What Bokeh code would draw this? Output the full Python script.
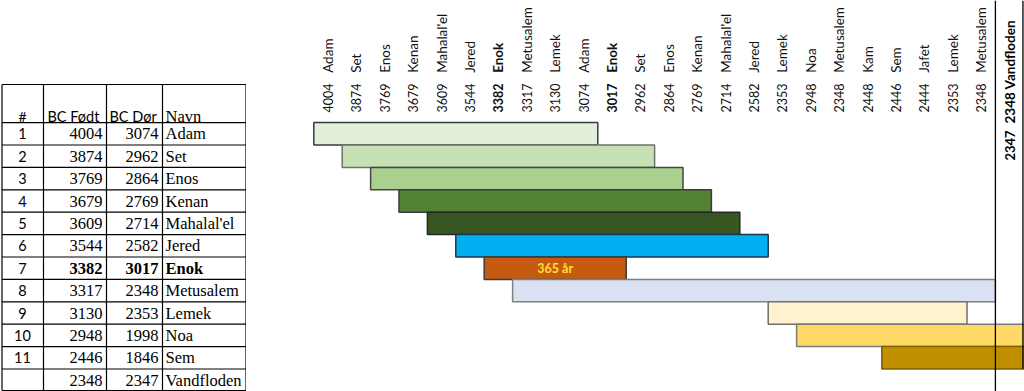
import math
from bokeh.plotting import figure
from bokeh.models import Range1d, ColumnDataSource
from bokeh.layouts import row
from bokeh.embed import file_html
from bokeh.resources import INLINE
from bokeh.core.properties import value, field

# ---------------- data ----------------
row_nums = ["1", "2", "3", "4", "5", "6", "7", "8", "9", "10", "11", ""]
born = [4004, 3874, 3769, 3679, 3609, 3544, 3382, 3317, 3130, 2948, 2446, 2348]
died = [3074, 2962, 2864, 2769, 2714, 2582, 3017, 2348, 2353, 1998, 1846, 2347]
names = ["Adam", "Set", "Enos", "Kenan", "Mahalal'el", "Jered", "Enok",
         "Metusalem", "Lemek", "Noa", "Sem", "Vandfloden"]
bold_rows = [6]

col_years = ["4004", "3874", "3769", "3679", "3609", "3544", "3382", "3317",
             "3130", "3074", "3017", "2962", "2864", "2769", "2714", "2582",
             "2353", "2948", "2348", "2448", "2446", "2444", "2353", "2348"]
col_names = ["Adam", "Set", "Enos", "Kenan", "Mahalal'el", "Jered", "Enok",
             "Metusalem", "Lemek", "Adam", "Enok", "Set", "Enos", "Kenan",
             "Mahalal'el", "Jered", "Lemek", "Noa", "Metusalem", "Kam", "Sem",
             "Jafet", "Lemek", "Metusalem"]
bold_cols = [6, 10]
flood_label = "2348 Vandfloden"
flood_end_label = "2347"

# bar spans on the event axis (column index of first / last column covered)
bar_start_col = [0, 1, 2, 3, 4, 5, 6, 7, 16, 17, 20]
bar_end_col = [9, 11, 12, 13, 14, 15, 10, 23, 22, 26, 26]
bar_fill = ["#E2EFDA", "#C6E0B4", "#A9D08E", "#548235", "#375623", "#00B0F0",
            "#C55A11", "#D9E1F2", "#FFF2CC", "#FFD966", "#BF8F00"]
bar_line = ["#3a3a3a", "#6f6f6f", "#454545", "#3a3a3a", "#262626", "#1f3550",
            "#3a3a3a", "#7f7f7f", "#6f6f6f", "#7a7a7a", "#7f6000"]
enok_row = 6
enok_text = "365 år"

# ---------------- shared y (row index) ----------------
H = 391
ROW = 22.4
y_end = -133.3 / ROW
yr = Range1d(y_end + H / ROW, y_end)
y_top = yr.end
y_bot = yr.start

# ---------------- table ----------------
t = figure(width=246, height=H, x_range=Range1d(0, 246), y_range=yr,
           toolbar_location=None, output_backend="svg",
           x_axis_location=None, y_axis_location=None,
           min_border=0, outline_line_color=None)
t.grid.visible = False

n = len(names)
tbl_top = -2.2
tbl_bot = n - 0.54
hy = [tbl_top] + [i - 0.5 for i in range(n)] + [tbl_bot]
t.segment(x0=[1.5] * len(hy), x1=[245.5] * len(hy), y0=hy, y1=hy,
          line_color="#000000", line_width=1.2)
vx = [1.5, 43, 106, 162, 245.5]
t.segment(x0=vx, x1=vx, y0=[tbl_top] * len(vx), y1=[tbl_bot] * len(vx),
          line_color="#000000", line_width=1.2)

# header
hdr_y = -0.78
t.text(x=[22], y=[hdr_y], text=["#"], text_font=value("Lato"),
       text_font_size="14px", text_align="center", text_baseline="alphabetic")
t.text(x=[47, 109], y=[hdr_y, hdr_y], text=["BC Født", "BC Dør"],
       text_font=value("Lato"), text_font_size="14.5px",
       text_align="left", text_baseline="alphabetic")
t.text(x=[165], y=[hdr_y], text=["Navn"], text_font=value("Liberation Serif"),
       text_font_size="16.5px", text_align="left", text_baseline="alphabetic")

rows_idx = list(range(n))
styles = ["bold" if i in bold_rows else "normal" for i in rows_idx]
src = ColumnDataSource(dict(
    y=rows_idx, num=row_nums, born=[str(b) for b in born],
    died=[str(d) for d in died], name=names, style=styles))
t.text(x=22, y="y", text="num", source=src, text_font=value("Lato"),
       text_font_size="14.5px", text_align="center", text_baseline="middle")
t.text(x=102, y="y", text="born", source=src, text_font=value("Liberation Serif"),
       text_font_size="16.5px", text_font_style=field("style"),
       text_align="right", text_baseline="middle")
t.text(x=158, y="y", text="died", source=src, text_font=value("Liberation Serif"),
       text_font_size="16.5px", text_font_style=field("style"),
       text_align="right", text_baseline="middle")
t.text(x=165, y="y", text="name", source=src, text_font=value("Liberation Serif"),
       text_font_size="16.5px", text_font_style=field("style"),
       text_align="left", text_baseline="middle")

# ---------------- timeline chart ----------------
COLW = 28.4
x0 = (246 - 327.5) / COLW
p = figure(width=778, height=H, x_range=Range1d(x0, x0 + 778 / COLW), y_range=yr,
           toolbar_location=None, output_backend="svg",
           x_axis_location=None, y_axis_location=None,
           min_border=0, outline_line_color=None)
p.grid.visible = False

nb = len(bar_start_col)
bsrc = ColumnDataSource(dict(
    y=list(range(nb)),
    left=[s - 0.5 for s in bar_start_col],
    right=[e + 0.5 for e in bar_end_col],
    fill=bar_fill, line=bar_line))
p.hbar(y="y", left="left", right="right", height=1.0, source=bsrc,
       fill_color="fill", line_color="line", line_width=1.5)

flood_col = len(col_years)
p.segment(x0=[flood_col - 0.5, flood_col + 0.47], x1=[flood_col - 0.5, flood_col + 0.47],
          y0=[y_top, y_top], y1=[y_bot, nb - 0.5], line_color="#000000", line_width=1.3)

# column labels (rotated)
cols = list(range(len(col_years)))
cstyle = ["bold" if c in bold_cols else "normal" for c in cols]
csrc = ColumnDataSource(dict(x=cols, yr=col_years, nm=col_names, style=cstyle))
p.text(x="x", y=-0.95, text="yr", source=csrc, angle=math.pi / 2,
       text_font=value("Lato"), text_font_size="12.5px", text_color="#111111",
       text_font_style=field("style"), text_align="left", text_baseline="middle")
p.text(x="x", y=-2.72, text="nm", source=csrc, angle=math.pi / 2,
       text_font=value("Lato"), text_font_size="13.5px", text_color="#111111",
       text_font_style=field("style"), text_align="left", text_baseline="middle")

p.text(x=[flood_col], y=[-0.46], text=[flood_label], angle=math.pi / 2,
       text_font=value("Lato"), text_font_size="13.5px", text_font_style="bold",
       text_align="left", text_baseline="middle")
p.text(x=[flood_col], y=[0.52], text=[flood_end_label], angle=math.pi / 2,
       text_font=value("Lato"), text_font_size="13px", text_font_style="bold",
       text_align="center", text_baseline="middle")

# duration label on Enok's bar
p.text(x=[(bar_start_col[enok_row] + bar_end_col[enok_row]) / 2], y=[enok_row],
       text=[enok_text], text_font=value("Lato"), text_font_size="12.5px",
       text_font_style="bold", text_color="#FFE033",
       text_align="center", text_baseline="middle")

layout = row(t, p)
open("out.html", "w").write(file_html(layout, INLINE))
